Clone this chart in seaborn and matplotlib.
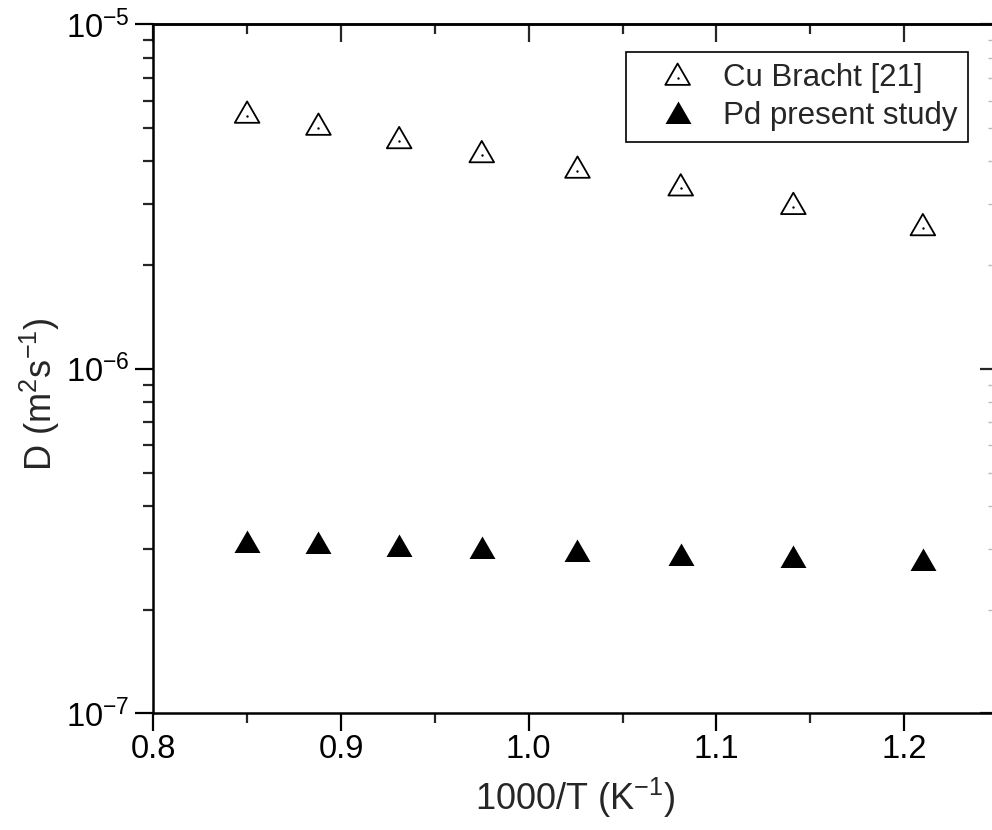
import pandas as pd
import seaborn as sns
import matplotlib.pyplot as plt
from matplotlib.path import Path
from matplotlib.ticker import MultipleLocator, LogLocator, NullFormatter

# 1000/T values and diffusion coefficients
inv_T = [0.850, 0.888, 0.931, 0.975, 1.026, 1.081, 1.141, 1.210]
d_cu = [5.43e-6, 5.01e-6, 4.58e-6, 4.17e-6, 3.76e-6, 3.34e-6, 2.95e-6, 2.56e-6]
d_pd = [3.08e-7, 3.05e-7, 3.00e-7, 2.96e-7, 2.90e-7, 2.83e-7, 2.78e-7, 2.73e-7]
series_labels = ['Cu Bracht [21]', 'Pd present study']

df = pd.DataFrame({'x': inv_T, 'cu': d_cu, 'pd': d_pd})

sns.set_style('ticks')
plt.rcParams['font.family'] = ['Liberation Sans', 'DejaVu Sans']
plt.rcParams['mathtext.fontset'] = 'custom'
plt.rcParams['mathtext.rm'] = 'Liberation Sans'
plt.rcParams['mathtext.it'] = 'Liberation Sans'
plt.rcParams['mathtext.bf'] = 'Liberation Sans'

# equilateral triangle centred on its centroid (like Origin's symbol)
tri = Path([(0, 1), (-0.866, -0.5), (0.866, -0.5), (0, 0)],
           [Path.MOVETO, Path.LINETO, Path.LINETO, Path.CLOSEPOLY])

fig = plt.figure(figsize=(9.92, 8.3), dpi=100)
ax = fig.add_axes([0.1545, 0.1406, 0.8515, 0.8301])

sns.scatterplot(data=df, x='x', y='cu', marker=tri, s=420, facecolors='none',
                edgecolor='black', linewidth=1.3, ax=ax, zorder=3)
sns.scatterplot(data=df, x='x', y='cu', marker='o', s=3, color='black',
                linewidth=0, ax=ax, zorder=3)
sns.scatterplot(data=df, x='x', y='pd', marker=tri, s=467, color='black',
                linewidth=0, ax=ax, zorder=3)

ax.set_yscale('log')
ax.set_xlim(0.8, 1.25)
ax.set_ylim(1e-7, 1e-5)

ax.xaxis.set_major_locator(MultipleLocator(0.1))
ax.xaxis.set_minor_locator(MultipleLocator(0.05))
ax.yaxis.set_major_locator(LogLocator(base=10))
ax.yaxis.set_minor_locator(LogLocator(base=10, subs=range(2, 10)))
ax.yaxis.set_minor_formatter(NullFormatter())

ax.tick_params(which='major', direction='out', length=13, width=1.6,
               labelsize=23.5, pad=2, colors='black')
ax.tick_params(which='minor', direction='out', length=7, width=1.6)
ax.tick_params(axis='y', which='major', pad=4)

# top / right axes with inward ticks, no labels
top = ax.secondary_xaxis('top')
top.xaxis.set_major_locator(MultipleLocator(0.1))
top.xaxis.set_minor_locator(MultipleLocator(0.05))
top.tick_params(which='major', direction='in', length=13, width=1.6, labeltop=False)
top.tick_params(which='minor', direction='in', length=7, width=1.6)
right = ax.secondary_yaxis('right')
right.yaxis.set_major_locator(LogLocator(base=10))
right.yaxis.set_minor_locator(LogLocator(base=10, subs=range(2, 10)))
right.tick_params(which='major', direction='in', length=13, width=1.6, labelright=False)
right.tick_params(which='minor', direction='in', length=7, width=1.0, colors='#bbbbbb')

for sp in list(ax.spines.values()) + list(top.spines.values()) + list(right.spines.values()):
    sp.set_linewidth(1.8)
    sp.set_color('black')

ax.set_xlabel('1000/T (K$^{-1}$)', fontsize=26)
ax.set_ylabel('D (m$^{2}$s$^{-1}$)', fontsize=26)
ax.xaxis.set_label_coords(0.5, -0.09)
ax.yaxis.set_label_coords(-0.108, 0.463)

# open triangle + its centre dot share one legend entry
handles = [(ax.collections[0], ax.collections[1]), ax.collections[2]]
leg = ax.legend(handles, series_labels, loc='upper right',
                bbox_to_anchor=(0.9646, 0.9598), borderaxespad=0,
                fontsize=22.5, frameon=True, fancybox=False, shadow=False,
                handlelength=2.62, handletextpad=0.13, borderpad=0.35,
                labelspacing=0.25, scatterpoints=1)
leg.get_frame().set_edgecolor('black')
leg.get_frame().set_linewidth(1.2)
leg.get_frame().set_alpha(1)

fig.savefig('out.png', dpi=100)
